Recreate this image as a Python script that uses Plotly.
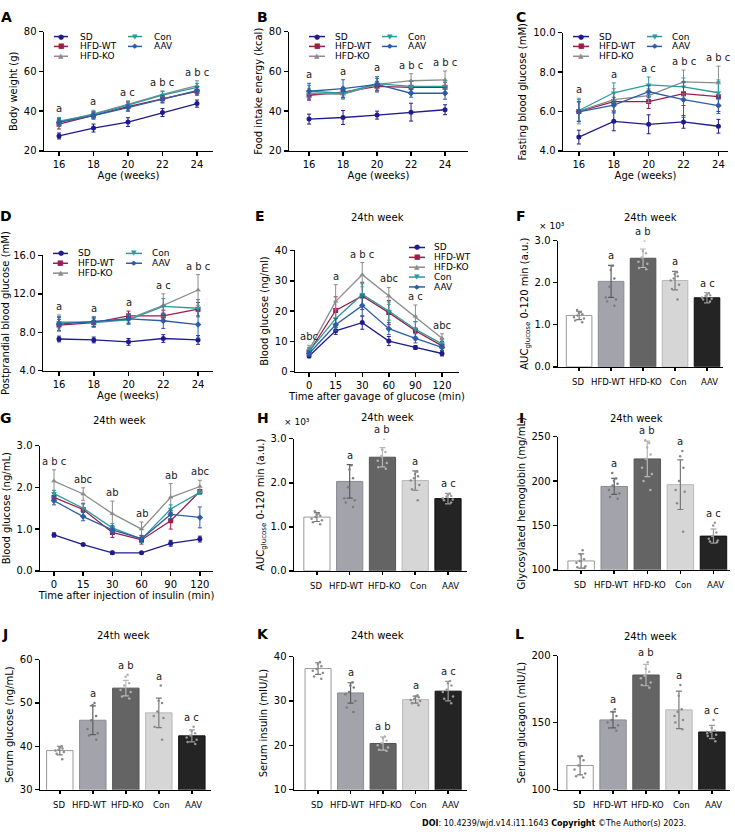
import plotly.graph_objects as go

W, H = 735, 839
FONT = "DejaVu Sans"

# ---------------- data ----------------
groups = ["SD", "HFD-WT", "HFD-KO", "Con", "AAV"]
weeks = [16, 18, 20, 22, 24]
time_points = ["0", "15", "30", "60", "90", "120"]

# A: body weight (g)
bw_mean = {"SD": [27.5, 31.5, 34.5, 39.3, 43.8],
           "HFD-WT": [33.5, 37.8, 42.3, 46.2, 50.0],
           "HFD-KO": [34.5, 38.6, 43.4, 48.4, 52.8],
           "Con": [35.0, 38.3, 43.0, 48.0, 52.0],
           "AAV": [34.3, 37.8, 41.8, 46.0, 50.3]}
bw_err = {"SD": [1.5, 2.0, 2.2, 2.0, 1.8],
          "HFD-WT": [2.5, 1.8, 2.2, 2.0, 2.0],
          "HFD-KO": [2.0, 1.8, 1.8, 1.8, 2.5],
          "Con": [1.8, 1.6, 1.8, 1.8, 2.0],
          "AAV": [1.8, 1.6, 1.8, 1.8, 1.8]}
bw_labels = ["a", "a", "a c", "a b c", "a b c"]

# B: food intake energy (kcal)
fi_mean = {"SD": [36.0, 36.8, 38.0, 39.5, 40.7],
           "HFD-WT": [48.0, 49.5, 52.5, 52.0, 52.0],
           "HFD-KO": [49.0, 48.5, 53.5, 55.3, 55.7],
           "Con": [50.0, 49.0, 53.8, 52.5, 52.5],
           "AAV": [50.0, 51.3, 53.5, 49.0, 49.0]}
fi_err = {"SD": [2.5, 3.5, 2.0, 4.5, 2.5],
          "HFD-WT": [2.5, 2.5, 2.5, 3.0, 2.5],
          "HFD-KO": [2.5, 2.5, 4.0, 3.5, 4.5],
          "Con": [3.0, 2.5, 3.5, 2.5, 3.0],
          "AAV": [4.0, 4.5, 3.0, 2.0, 3.0]}
fi_labels = ["a", "a", "a", "a b c", "a b c"]

# C: fasting blood glucose (mM)
fbg_mean = {"SD": [4.70, 5.50, 5.35, 5.47, 5.25],
            "HFD-WT": [6.00, 6.50, 6.50, 6.90, 6.75],
            "HFD-KO": [6.02, 6.60, 6.80, 7.50, 7.45],
            "Con": [6.05, 6.95, 7.35, 7.25, 6.95],
            "AAV": [5.98, 6.32, 7.00, 6.60, 6.30]}
fbg_err = {"SD": [0.35, 0.48, 0.48, 0.32, 0.35],
           "HFD-WT": [0.50, 0.45, 0.35, 0.60, 0.75],
           "HFD-KO": [0.65, 0.55, 0.35, 0.60, 0.85],
           "Con": [0.55, 0.50, 0.40, 0.45, 0.65],
           "AAV": [0.50, 0.40, 0.30, 0.90, 0.40]}
fbg_labels = ["a", "a", "a c", "a b c", "a b c"]

# D: postprandial blood glucose (mM)
ppbg_mean = {"SD": [7.30, 7.20, 7.00, 7.35, 7.20],
             "HFD-WT": [8.75, 9.00, 9.70, 9.70, 10.40],
             "HFD-KO": [9.00, 9.10, 9.40, 10.80, 12.40],
             "Con": [9.05, 9.00, 9.30, 10.70, 10.50],
             "AAV": [8.85, 9.10, 9.40, 9.20, 8.80]}
ppbg_err = {"SD": [0.30, 0.30, 0.35, 0.40, 0.45],
            "HFD-WT": [0.60, 0.40, 0.50, 0.60, 0.70],
            "HFD-KO": [0.80, 0.50, 0.40, 1.20, 1.60],
            "Con": [0.60, 0.50, 0.50, 0.80, 0.90],
            "AAV": [0.70, 0.50, 0.50, 0.80, 1.40]}
ppbg_labels = ["a", "a", "a", "a c", "a b c"]

# E: OGTT blood glucose
ogtt_mean = {"SD": [5.2, 13.5, 16.2, 10.1, 8.0, 6.0],
             "HFD-WT": [6.5, 20.2, 25.0, 19.5, 13.5, 8.5],
             "HFD-KO": [7.2, 23.2, 32.0, 25.0, 18.3, 11.0],
             "Con": [6.8, 17.5, 25.5, 20.0, 14.0, 9.2],
             "AAV": [6.0, 15.5, 21.8, 14.2, 11.0, 8.0]}
ogtt_err = {"SD": [0.6, 1.2, 2.2, 1.5, 0.6, 0.8],
            "HFD-WT": [1.0, 4.5, 4.5, 4.0, 3.0, 1.5],
            "HFD-KO": [1.5, 5.5, 4.0, 2.8, 3.7, 1.5],
            "Con": [1.2, 3.0, 3.5, 3.0, 2.5, 1.3],
            "AAV": [0.8, 2.0, 3.5, 2.0, 1.5, 1.0]}
ogtt_labels = ["abc", "a", "a b c", "abc", "a c", "abc"]

# G: ITT blood glucose
itt_mean = {"SD": [0.86, 0.63, 0.43, 0.43, 0.66, 0.76],
            "HFD-WT": [1.76, 1.47, 0.92, 0.74, 1.20, 1.90],
            "HFD-KO": [2.15, 1.84, 1.37, 1.00, 1.76, 2.02],
            "Con": [1.85, 1.50, 1.03, 0.76, 1.48, 1.88],
            "AAV": [1.68, 1.30, 0.98, 0.77, 1.35, 1.28]}
itt_err = {"SD": [0.05, 0.02, 0.04, 0.02, 0.07, 0.07],
           "HFD-WT": [0.10, 0.15, 0.12, 0.10, 0.20, 0.05],
           "HFD-KO": [0.27, 0.15, 0.30, 0.17, 0.33, 0.15],
           "Con": [0.08, 0.10, 0.10, 0.08, 0.10, 0.05],
           "AAV": [0.10, 0.10, 0.10, 0.08, 0.10, 0.25]}
itt_labels = ["a b c", "abc", "ab", "ab", "ab", "abc"]

# F / H: AUC glucose (x10^3)
auc_mean = [1.22, 2.03, 2.58, 2.05, 1.64]
auc_err = [0.10, 0.38, 0.22, 0.22, 0.12]
auc_points = [[1.35, 1.30, 1.28, 1.25, 1.22, 1.18, 1.15, 1.10, 1.06],
              [2.40, 2.30, 2.10, 1.90, 1.65, 1.60, 1.55, 1.45],
              [3.00, 2.75, 2.70, 2.60, 2.50, 2.45, 2.35, 2.32],
              [2.25, 2.20, 2.15, 2.10, 2.05, 1.95, 1.85, 1.60],
              [1.75, 1.72, 1.68, 1.65, 1.62, 1.60, 1.55, 1.70]]
auc_labels = ["", "a", "a b", "a", "a c"]

# I: glycosylated hemoglobin
hba_mean = [110, 194, 225, 196, 138]
hba_err = [8, 9, 20, 28, 8]
hba_points = [[122, 117, 112, 110, 108, 104, 103, 102],
              [209, 203, 200, 197, 195, 190, 186, 182, 180],
              [246, 243, 238, 230, 225, 215, 208, 200, 190],
              [234, 228, 215, 200, 190, 188, 175, 143],
              [153, 150, 142, 138, 135, 133, 132, 131]]
hba_labels = ["", "a", "a b", "a", "a c"]

# J: serum glucose
sglu_mean = [39.0, 46.0, 53.4, 47.7, 42.4]
sglu_err = [1.0, 3.3, 1.8, 3.4, 1.4]
sglu_points = [[40.0, 39.8, 39.5, 39.2, 39.0, 38.7, 38.3, 37.0],
               [50.0, 49.5, 47.0, 46.0, 44.0, 43.0, 42.5, 41.5],
               [56.5, 56.0, 54.5, 54.0, 53.0, 52.5, 51.5, 51.0],
               [54.0, 50.5, 50.0, 48.0, 47.0, 46.5, 44.5, 41.5],
               [44.5, 43.5, 43.0, 42.5, 42.0, 41.5, 41.0, 40.5]]
sglu_labels = ["", "a", "a b", "a", "a c"]

# K: serum insulin
sins_mean = [37.3, 31.8, 20.4, 30.3, 32.2]
sins_err = [1.3, 2.3, 1.5, 0.8, 2.2]
sins_points = [[38.8, 38.3, 37.8, 37.2, 36.8, 36.3, 35.5, 35.0],
               [34.2, 33.5, 33.0, 32.0, 31.5, 30.0, 28.5, 27.5],
               [22.0, 21.5, 21.0, 20.5, 20.0, 19.5, 19.0, 18.7],
               [31.3, 31.0, 30.8, 30.5, 30.2, 30.0, 29.5, 29.0],
               [34.5, 34.0, 33.5, 32.5, 32.0, 31.0, 30.5, 29.5]]
sins_labels = ["", "a", "a b", "a", "a c"]

# L: serum glucagon
sgcg_mean = [118, 152, 185.5, 159.5, 143]
sgcg_err = [7, 6, 8, 14, 5]
sgcg_points = [[125, 124, 122, 118, 115, 112, 110, 109],
               [160, 158, 155, 152, 150, 148, 146, 144],
               [195, 190, 188, 185, 183, 180, 178, 176],
               [178, 170, 160, 158, 155, 152, 150, 145],
               [152, 146, 144, 143, 142, 141, 140, 136]]
sgcg_labels = ["", "a", "a b", "a", "a c"]

# ---------------- styles ----------------
line_colors = ["#1f1b8c", "#9b1c4e", "#8c8c8c", "#2b9b9b", "#2c5ea6"]
line_symbols = ["circle", "square", "triangle-up", "triangle-down", "diamond"]
legend_glyphs = ["\u25CF", "\u25A0", "\u25B2", "\u25BC", "\u25C6"]
bar_fills = ["#ffffff", "#a3a3ab", "#646464", "#d6d6d6", "#242424"]
bar_edges = ["#999999", "#8a8a92", "#555555", "#b8b8b8", "#111111"]
bar_err_colors = ["#777777", "#5c5c5c", "#b8b8b8", "#7a7a7a", "#9a9a9a"]
point_colors = ["#8a8a8a", "#7a7a7a", "#b0b0b0", "#8a8a8a", "#9a9a9a"]
cat_label_nudge = [-1, -3, 2, 3, 2]

fig = go.Figure()
annotations = []
shapes = []
layout = {}


def X(px):
    return px / W


def Y(py):
    return 1 - py / H


def names(n):
    return ("x" if n == 1 else f"x{n}", "y" if n == 1 else f"y{n}",
            "xaxis" if n == 1 else f"xaxis{n}", "yaxis" if n == 1 else f"yaxis{n}")


def base_axis():
    return dict(showline=True, linecolor="black", linewidth=1.5, ticks="outside",
                ticklen=4, tickwidth=1.5, tickcolor="black", showgrid=False,
                zeroline=False, tickfont=dict(family=FONT, size=10, color="black"),
                title_font=dict(family=FONT, size=10, color="black"), fixedrange=True)


def set_axes(n, xpx, ypx, xrange, yrange, ytickvals, ytickfmt, ytitle, xtitle=None,
             xtickvals=None, xtype="linear", bar=False):
    xa, ya, xk, yk = names(n)
    xax = base_axis()
    xax.update(domain=[X(xpx[0]), X(xpx[1])], range=xrange, anchor=ya, type=xtype,
               tickangle=0)
    if xtickvals is not None:
        xax.update(tickmode="array", tickvals=xtickvals)
    if bar:
        xax.update(ticklen=3, showticklabels=False)
        for gi, g in enumerate(groups):
            annotations.append(dict(x=gi, y=0, xref=xa, yref=f"{ya} domain", text=g,
                                    showarrow=False, yanchor="top", yshift=-8,
                                    xshift=cat_label_nudge[gi],
                                    font=dict(family=FONT, size=8.5, color="black")))
    if xtitle:
        xax.update(title=dict(text=xtitle, standoff=2))
    yax = base_axis()
    yax.update(domain=[Y(ypx[1]), Y(ypx[0])], range=yrange, anchor=xa,
               tickmode="array", tickvals=ytickvals, tickformat=ytickfmt,
               title=dict(text=ytitle, standoff=4))
    layout[xk] = xax
    layout[yk] = yax


def add_line_panel(n, xvals, mean, err, labels, categorical=False):
    xa, ya, _, _ = names(n)
    for gi, g in enumerate(groups):
        fig.add_trace(go.Scatter(
            x=xvals, y=mean[g], mode="lines+markers",
            error_y=dict(type="data", array=err[g], color=line_colors[gi], thickness=1, width=2),
            line=dict(color=line_colors[gi], width=1.3),
            marker=dict(symbol=line_symbols[gi], size=5, color=line_colors[gi]),
            xaxis=xa, yaxis=ya, showlegend=False, hoverinfo="skip"))
    for i, lab in enumerate(labels):
        top = max(mean[g][i] + err[g][i] for g in groups)
        annotations.append(dict(x=i if categorical else xvals[i], y=top, xref=xa, yref=ya,
                                text=lab, showarrow=False, yanchor="bottom", yshift=1,
                                font=dict(family=FONT, size=10, color="#222")))


def add_bar_panel(n, mean, err, points, labels):
    xa, ya, _, _ = names(n)
    for gi in range(len(groups)):
        fig.add_trace(go.Bar(
            x=[gi], y=[mean[gi]], width=0.8,
            marker=dict(color=bar_fills[gi], line=dict(color=bar_edges[gi], width=1)),
            error_y=dict(type="data", array=[err[gi]], color=bar_err_colors[gi],
                         thickness=1.2, width=3),
            xaxis=xa, yaxis=ya, showlegend=False, hoverinfo="skip"))
    for gi in range(len(groups)):
        fig.add_trace(go.Box(
            x=[gi] * len(points[gi]), y=points[gi], boxpoints="all", jitter=0.8,
            pointpos=0, width=0.5, fillcolor="rgba(0,0,0,0)",
            line=dict(width=0, color="rgba(0,0,0,0)"),
            marker=dict(size=2.5, color=point_colors[gi]),
            xaxis=xa, yaxis=ya, showlegend=False, hoverinfo="skip"))
    for gi, lab in enumerate(labels):
        if not lab:
            continue
        top = max(mean[gi] + err[gi], max(points[gi]))
        annotations.append(dict(x=gi, y=top, xref=xa, yref=ya, text=lab,
                                showarrow=False, yanchor="bottom", yshift=2,
                                font=dict(family=FONT, size=10, color="#222")))


def add_legend(col_specs):
    # col_specs: list of (line_x0, line_x1, text_x, rows_y, group_indices)
    for x0, x1, xt, rows, gidx in col_specs:
        for gi, yy in zip(gidx, rows):
            shapes.append(dict(type="line", xref="paper", yref="paper",
                               x0=X(x0), x1=X(x1), y0=Y(yy), y1=Y(yy),
                               line=dict(color=line_colors[gi], width=1.5)))
            annotations.append(dict(x=X((x0 + x1) / 2), y=Y(yy), xref="paper", yref="paper",
                                    text=legend_glyphs[gi], showarrow=False,
                                    xanchor="center", yanchor="middle",
                                    font=dict(family=FONT, size=7, color=line_colors[gi])))
            annotations.append(dict(x=X(xt), y=Y(yy), xref="paper", yref="paper",
                                    text=groups[gi], showarrow=False,
                                    xanchor="left", yanchor="middle",
                                    font=dict(family=FONT, size=9, color="black")))


def add_text(px, py, text, size=10, bold=False, xanchor="center"):
    annotations.append(dict(x=X(px), y=Y(py), xref="paper", yref="paper",
                            text=f"<b>{text}</b>" if bold else text, showarrow=False,
                            xanchor=xanchor, yanchor="middle",
                            font=dict(family=FONT, size=size, color="black")))


# ---------------- panels ----------------
# A
add_line_panel(1, weeks, bw_mean, bw_err, bw_labels)
set_axes(1, (44, 213), (26, 147), [15.13, 24.93], [20, 80], [20, 40, 60, 80], "d",
         "Body weight (g)", "Age (weeks)", xtickvals=weeks)
add_legend([(54, 68, 78, [31, 41, 51], [0, 1, 2]), (128, 142, 152, [31, 41], [3, 4])])

# B
add_line_panel(2, weeks, fi_mean, fi_err, fi_labels)
set_axes(2, (289, 468), (26, 147), [14.82, 25.35], [20, 80], [20, 40, 60, 80], "d",
         "Food intake energy (kcal)", "Age (weeks)", xtickvals=weeks)
add_legend([(309, 325, 333, [31, 41, 51], [0, 1, 2]), (382, 397, 406, [31, 41], [3, 4])])

# C
add_line_panel(3, weeks, fbg_mean, fbg_err, fbg_labels)
set_axes(3, (563, 728), (27, 147), [15.09, 24.55], [4, 10], [4, 6, 8, 10], ".1f",
         "Fasting blood glucose (mM)", "Age (weeks)", xtickvals=weeks)
add_legend([(573, 589, 597, [31, 41, 51], [0, 1, 2]), (647, 662, 670, [31, 41], [3, 4])])

# D
add_line_panel(4, weeks, ppbg_mean, ppbg_err, ppbg_labels)
set_axes(4, (43, 213), (253, 370), [15.08, 24.86], [4, 16], [4, 8, 12, 16], ".1f",
         "Postprandial blood glucose (mM)", "Age (weeks)", xtickvals=weeks)
add_legend([(53, 68, 76, [251, 261, 271], [0, 1, 2]), (126, 142, 150, [251, 261], [3, 4])])

# E
add_line_panel(5, time_points, ogtt_mean, ogtt_err, ogtt_labels, categorical=True)
set_axes(5, (295, 459), (248, 371), [-0.53, 5.64], [0, 40], [0, 10, 20, 30, 40], "d",
         "Blood glucose (ng/ml)", "Time after gavage of glucose (min)", xtype="category")
add_legend([(409, 425, 432, [245, 255, 265, 275, 285], [0, 1, 2, 3, 4])])
add_text(377, 215, "24th week")

# F
add_bar_panel(6, auc_mean, auc_err, auc_points, auc_labels)
set_axes(6, (558, 723), (238, 366), [-0.66, 4.5], [0, 3], [0, 1, 2, 3], ".1f",
         "AUC<sub>glucose</sub> 0-120 min (a.u.)", xtickvals=[0, 1, 2, 3, 4], bar=True)
add_text(650, 215, "24th week")
add_text(552, 223, "× 10³", size=9)

# G
add_line_panel(7, time_points, itt_mean, itt_err, itt_labels, categorical=True)
set_axes(7, (40, 213), (446, 573), [-0.48, 5.45], [0, 3], [0, 1, 2, 3], ".1f",
         "Blood glucose (ng/mL)", "Time after injection of insulin (min)", xtype="category")
add_text(120, 421, "24th week")

# H
add_bar_panel(8, auc_mean, auc_err, auc_points, auc_labels)
set_axes(8, (294, 467), (439, 573), [-0.7, 4.58], [0, 3], [0, 1, 2, 3], ".1f",
         "AUC<sub>glucose</sub> 0-120 min (a.u.)", xtickvals=[0, 1, 2, 3, 4], bar=True)
add_text(387, 417, "24th week")
add_text(297, 422, "× 10³", size=9)

# I
add_bar_panel(9, hba_mean, hba_err, hba_points, hba_labels)
set_axes(9, (558, 730), (437, 572), [-0.7, 4.5], [100, 250], [100, 150, 200, 250], "d",
         "Glycosylated hemoglobin (mg/mL)", xtickvals=[0, 1, 2, 3, 4], bar=True)
add_text(636, 418, "24th week")

# J
add_bar_panel(10, sglu_mean, sglu_err, sglu_points, sglu_labels)
set_axes(10, (40, 211), (663, 795), [-0.6, 4.58], [30, 60], [30, 40, 50, 60], "d",
         "Serum glucose (ng/mL)", xtickvals=[0, 1, 2, 3, 4], bar=True)
add_text(123, 639, "24th week")

# K
add_bar_panel(11, sins_mean, sins_err, sins_points, sins_labels)
set_axes(11, (294, 467), (660, 795), [-0.74, 4.58], [10, 40], [10, 20, 30, 40], "d",
         "Serum insulin (mIU/L)", xtickvals=[0, 1, 2, 3, 4], bar=True)
add_text(377, 639, "24th week")

# L
add_bar_panel(12, sgcg_mean, sgcg_err, sgcg_points, sgcg_labels)
set_axes(12, (558, 730), (659, 795), [-0.67, 4.55], [100, 200], [100, 150, 200], "d",
         "Serum glucagon (mIU/L)", xtickvals=[0, 1, 2, 3, 4], bar=True)
add_text(650, 640, "24th week")

# panel letters
for letter, px, py in [("A", 6, 11), ("B", 262, 11), ("C", 521, 11),
                       ("D", 6, 213), ("E", 260, 213), ("F", 521, 213),
                       ("G", 6, 418), ("H", 263, 418), ("I", 521, 418),
                       ("J", 5, 637), ("K", 263, 637), ("L", 519, 637)]:
    add_text(px, py, letter, size=14, bold=True)

# footer
annotations.append(dict(x=X(420), y=Y(829), xref="paper", yref="paper",
                        text="<b>DOI</b>: 10.4239/wjd.v14.i11.1643 <b>Copyright</b> ©The Author(s) 2023.",
                        showarrow=False, xanchor="left", yanchor="middle",
                        font=dict(family=FONT, size=8, color="black")))

fig.update_layout(width=W, height=H, margin=dict(l=0, r=0, t=0, b=0),
                  paper_bgcolor="white", plot_bgcolor="white",
                  font=dict(family=FONT, size=10, color="black"),
                  barmode="overlay", boxmode="overlay", showlegend=False,
                  annotations=annotations, shapes=shapes, **layout)

fig.write_html("out.html", config={"displayModeBar": False, "staticPlot": True},
               post_script="document.body.style.margin='0';document.body.style.overflow='hidden';")
